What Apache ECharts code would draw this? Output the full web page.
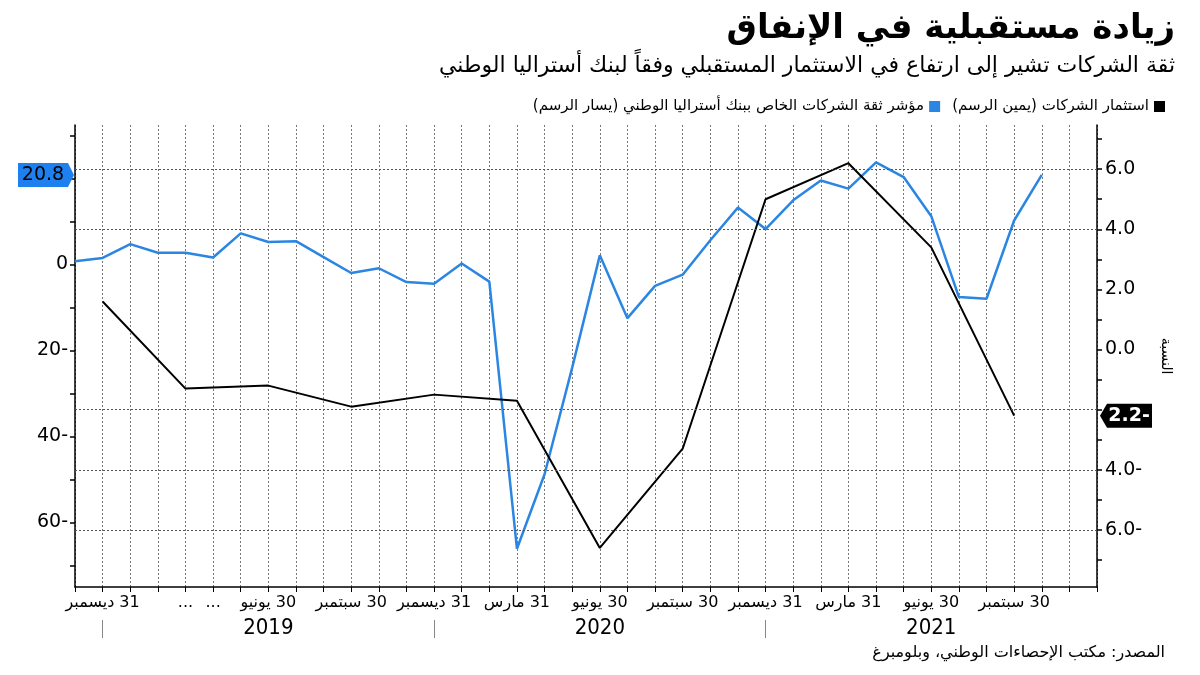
<!DOCTYPE html>
<html dir="rtl">
<head>
<meta charset="utf-8">
<script src="https://cdn.jsdelivr.net/npm/echarts@6/dist/echarts.min.js"></script>
<style>
html,body{margin:0;padding:0;background:#fff;}
#chart{width:1200px;height:675px;}
</style>
</head>
<body>
<div id="chart"></div>
<script>
// Monthly categories (Nov 2018 .. Dec 2021)
const months = ['2018-11','2018-12','2019-01','2019-02','2019-03','2019-04','2019-05','2019-06','2019-07','2019-08','2019-09','2019-10','2019-11','2019-12',
  '2020-01','2020-02','2020-03','2020-04','2020-05','2020-06','2020-07','2020-08','2020-09','2020-10','2020-11','2020-12',
  '2021-01','2021-02','2021-03','2021-04','2021-05','2021-06','2021-07','2021-08','2021-09','2021-10','2021-11','2021-12'];

// x tick labels (by category index)
const xLabels = ['', '31 ديسمبر', '', '', '...', '...', '', '30 يونيو', '', '', '30 سبتمبر', '', '', '31 ديسمبر',
  '', '', '31 مارس', '', '', '30 يونيو', '', '', '30 سبتمبر', '', '', '31 ديسمبر',
  '', '', '31 مارس', '', '', '30 يونيو', '', '', '30 سبتمبر', '', '', ''];
const yearLabels = {7: '2019', 19: '2020', 31: '2021'};
const yearSeparators = [1, 13, 25];

// NAB business confidence (left axis), monthly Nov 2018 .. Oct 2021
const confidence = [0.7, 1.5, 4.7, 2.7, 2.7, 1.6, 7.2, 5.2, 5.4, 1.7, -2.0, -0.9, -4.1, -4.5, 0.2, -4.0,
  -66.1, -48.8, -24.0, 2.1, -12.5, -5.0, -2.4, 5.6, 13.2, 8.2, 14.9, 19.5, 17.6, 23.7, 20.3, 11.2, -7.6, -8.0, 10.2, 20.8];

// Business investment (right axis), quarterly Dec 2018 .. Sep 2021
const investMonths = ['2018-12','2019-03','2019-06','2019-09','2019-12','2020-03','2020-06','2020-09','2020-12','2021-03','2021-06','2021-09'];
const investment = [1.6, -1.3, -1.2, -1.9, -1.5, -1.7, -6.6, -3.3, 5.0, 6.2, 3.4, -2.2];

// axis ticks / labels
const leftLabelValues = [0, -20, -40, -60];
const leftTickValues = [30, 20, 10, 0, -10, -20, -30, -40, -50, -60, -70];
const rightLabelValues = [6, 4, 2, 0, -4, -6];
const rightTickValues = [7, 6, 5, 4, 3, 2, 1, 0, -1, -2, -3, -4, -5, -6, -7];
const gridValues = [6, 4, -2, -4, -6];

const nameConf = 'مؤشر ثقة الشركات الخاص ببنك أستراليا الوطني (يسار الرسم)';
const nameInv = 'استثمار الشركات (يمين الرسم)';

const FONT = 'DejaVu Sans';
const BLUE = '#2a86e2';

const confData = months.map((m, i) => i < confidence.length ? confidence[i] : null);
const invData = months.map(m => {
  const k = investMonths.indexOf(m);
  return k >= 0 ? investment[k] : null;
});
const confLast = confidence[confidence.length - 1];
const invLast = investment[investment.length - 1];

const chart = echarts.init(document.getElementById('chart'));
chart.setOption({
  animation: false,
  backgroundColor: '#fff',
  textStyle: {fontFamily: FONT},
  graphic: [
    {type: 'text', right: 25, top: 12, style: {text: 'زيادة مستقبلية في الإنفاق', font: 'bold 34px ' + FONT, fill: '#000'}},
    {type: 'text', right: 25, top: 55, style: {text: 'ثقة الشركات تشير إلى ارتفاع في الاستثمار المستقبلي وفقاً لبنك أستراليا الوطني', font: '22px ' + FONT, fill: '#000'}},
    {type: 'text', right: 35, top: 645, style: {text: 'المصدر: مكتب الإحصاءات الوطني، وبلومبرغ', font: '16px ' + FONT, fill: '#000'}}
  ],
  legend: {
    right: 30, top: 94, align: 'right', icon: 'rect', itemWidth: 11, itemHeight: 11, itemGap: 12,
    textStyle: {fontSize: 15, color: '#000', fontFamily: FONT},
    data: [nameConf, nameInv]
  },
  grid: {left: 75, right: 103, top: 125, bottom: 88},
  xAxis: [
    {
      type: 'category', data: months, boundaryGap: false, position: 'bottom',
      axisLine: {onZero: false, lineStyle: {color: '#000', width: 1.5}},
      axisTick: {show: true, interval: 0, length: 5, lineStyle: {color: '#000'}},
      axisLabel: {interval: 0, hideOverlap: false, margin: 8, fontSize: 16, color: '#000', fontFamily: FONT,
        formatter: (v, i) => xLabels[i] || ''},
      splitLine: {show: true, interval: 0, lineStyle: {type: [2, 2], color: '#777', width: 1}}
    },
    {
      type: 'category', data: months, boundaryGap: false, position: 'bottom', offset: 33,
      axisLine: {show: false, onZero: false},
      axisTick: {show: true, length: 18, interval: (i) => yearSeparators.indexOf(i) >= 0, lineStyle: {color: '#888', width: 1}},
      axisLabel: {interval: 0, hideOverlap: false, margin: -3, fontSize: 22, color: '#000', fontFamily: 'DejaVu Sans Condensed',
        formatter: (v, i) => yearLabels[i] || ''},
      splitLine: {show: false}
    }
  ],
  yAxis: [
    {
      type: 'value', position: 'left', min: -75, max: 32.4,
      axisLine: {show: true, onZero: false, lineStyle: {color: '#000', width: 1.5}},
      axisTick: {show: true, length: 5, customValues: leftTickValues, lineStyle: {color: '#000', width: 1.5}},
      axisLabel: {customValues: leftLabelValues, fontSize: 19, color: '#000', margin: 7, fontFamily: FONT,
        formatter: v => String(v)},
      splitLine: {show: false}
    },
    {
      type: 'value', position: 'right', min: -7.9, max: 7.47,
      name: 'النسبة', nameLocation: 'middle', nameRotate: -90, nameGap: 62,
      nameTextStyle: {fontSize: 14, color: '#000', fontFamily: FONT},
      axisLine: {show: true, onZero: false, lineStyle: {color: '#000', width: 1.5}},
      axisTick: {show: true, length: 5, customValues: rightTickValues, lineStyle: {color: '#000', width: 1.5}},
      axisLabel: {customValues: rightLabelValues, fontSize: 19, color: '#000', margin: 8, fontFamily: FONT,
        formatter: v => v.toFixed(1)},
      splitLine: {show: false}
    }
  ],
  series: [
    {
      name: nameConf, type: 'line', yAxisIndex: 0, data: confData, symbol: 'none',
      color: BLUE, lineStyle: {color: BLUE, width: 2.5}, z: 3,
      markPoint: {
        silent: true,
        data: [{
          coord: [months[0], confLast], value: confLast,
          symbol: 'path://M0,0 L50,0 L56,12 L50,24 L0,24 Z', symbolSize: [56, 24], symbolOffset: [-29, 0],
          itemStyle: {color: '#1e80ee'},
          label: {show: true, position: 'inside', offset: [-3, 0], color: '#000', fontSize: 19, fontFamily: FONT, formatter: String(confLast)}
        }]
      }
    },
    {
      name: nameInv, type: 'line', yAxisIndex: 1, data: invData, connectNulls: true, symbol: 'none',
      color: '#000', lineStyle: {color: '#000', width: 2}, z: 4,
      markLine: {
        silent: true, symbol: 'none', label: {show: false},
        lineStyle: {type: [2, 2], color: '#555', width: 1},
        data: gridValues.map(v => ({yAxis: v}))
      },
      markPoint: {
        silent: true,
        data: [{
          coord: [months[months.length - 1], invLast], value: invLast,
          symbol: 'path://M7,0 L52,0 L52,24 L7,24 L0,12 Z', symbolSize: [52, 24], symbolOffset: [29, 0],
          itemStyle: {color: '#000'},
          label: {show: true, position: 'inside', offset: [3, 0], color: '#fff', fontSize: 19, fontWeight: 'bold', fontFamily: FONT, formatter: String(invLast)}
        }]
      }
    }
  ]
});
</script>
</body>
</html>
